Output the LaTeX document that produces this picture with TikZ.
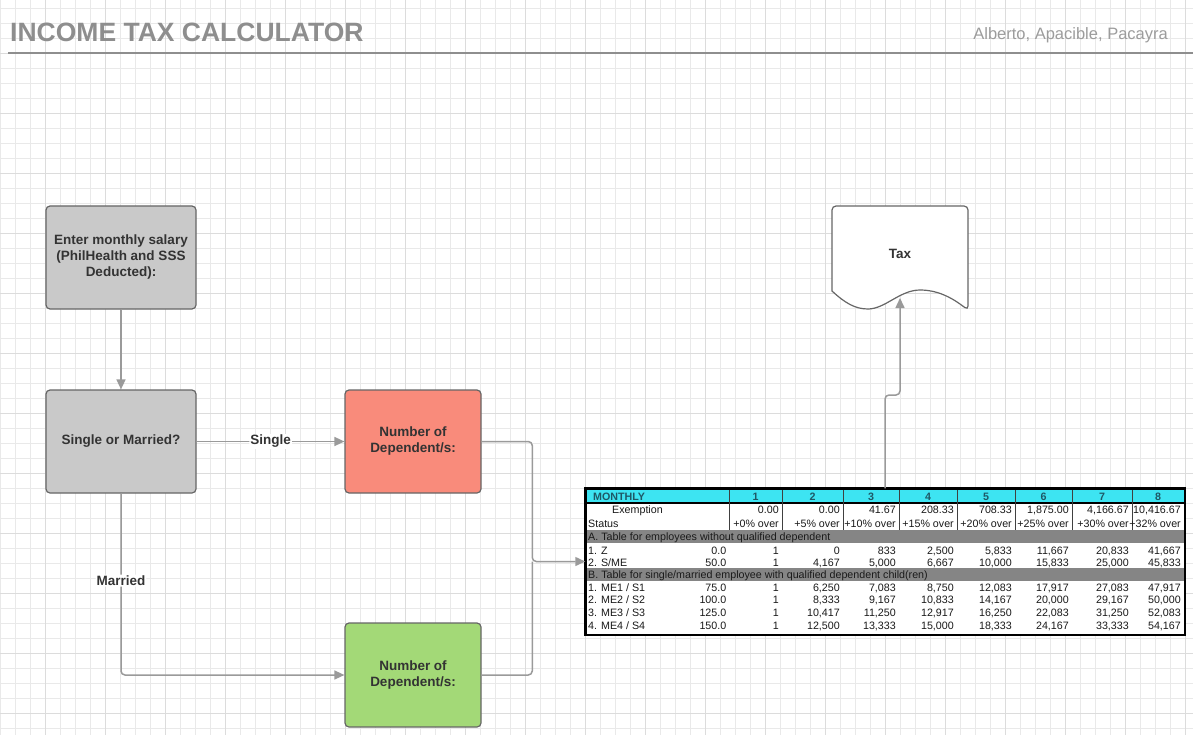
\documentclass[tikz,border=0pt]{standalone}
\usepackage{fontspec}
\setmainfont{Liberation Sans}
\usetikzlibrary{arrows.meta}
\definecolor{gridminor}{HTML}{E9E9E9}
\definecolor{gridmajor}{HTML}{DCDCDC}
\definecolor{titlegray}{HTML}{8E8E8E}
\definecolor{authgray}{HTML}{9C9C9C}
\definecolor{boxgray}{HTML}{C9C9C9}
\definecolor{boxborder}{HTML}{666666}
\definecolor{redbox}{HTML}{F98B7B}
\definecolor{greenbox}{HTML}{A3D977}
\definecolor{conngray}{HTML}{9A9A9A}
\definecolor{textdark}{HTML}{333333}
\definecolor{cyanc}{HTML}{3DE4F2}
\definecolor{grayrow}{HTML}{858585}
\definecolor{tabtext}{HTML}{1A1A1A}
\definecolor{headtext}{HTML}{1E5866}
\newcommand\trow[4]{%
  \node[tcell, anchor=base west] (#1-lab) at (588,#2) {#3};
  \foreach \v [count=\i from 0] in {#4} {%
    \pgfmathsetmacro\xr{{726.5,779,840,896,954,1012,1069,1129,1181}[\i]}%
    \node[tcell, anchor=base east] (#1-\i) at (\xr,#2) {\v};
  }%
}
\begin{document}
\begin{tikzpicture}[x=1pt,y=-1pt,
  box/.style={draw=boxborder, line width=1.2pt, rounded corners=4pt, align=center, inner sep=2pt,
    font=\fontsize{13.5}{16}\selectfont\bfseries, text=textdark},
  conn/.style={draw=conngray, line width=1.5pt, -{Triangle[length=10pt,width=9pt]}, rounded corners=4pt},
  connplain/.style={draw=conngray, line width=1.5pt, rounded corners=4pt},
  lbl/.style={fill=white, inner sep=1pt, font=\fontsize{13.5}{16}\selectfont\bfseries, text=textdark},
  tcell/.style={inner sep=0pt, font=\fontsize{10.7}{12}\selectfont, text=tabtext},
  thead/.style={inner sep=0pt, font=\fontsize{10.7}{12}\selectfont\bfseries, text=headtext},
  gridl/.style={draw=gridminor, line width=0.8pt},
  gridM/.style={draw=gridmajor, line width=0.9pt}
]
\useasboundingbox (0,0) rectangle (1193,735);
\fill[white] (0,0) rectangle (1193,735);
% grid
\foreach \k in {0,...,79} \draw[gridl] (0.5+15*\k,0) -- (0.5+15*\k,735);
\foreach \k in {0,...,49} \draw[gridl] (0,8+15*\k) -- (1193,8+15*\k);
\foreach \k in {0,...,19} \draw[gridM] (45.5+60*\k,0) -- (45.5+60*\k,735);
\foreach \k in {0,...,12} \draw[gridM] (0,53+60*\k) -- (1193,53+60*\k);
% title
\node[anchor=base west, inner sep=0pt, font=\fontsize{26.5}{30}\selectfont\bfseries, text=titlegray] (title) at (10,42) {INCOME TAX CALCULATOR};
\node[anchor=base east, inner sep=0pt, font=\fontsize{16.5}{20}\selectfont, text=authgray] (auth) at (1168,40) {Alberto, Apacible, Pacayra};
\draw[draw=titlegray, line width=1.5pt] (8,53) -- (1193,53);
% boxes
\node[box, fill=boxgray, minimum width=150pt, minimum height=103pt] (b1) at (121,257.5) {Enter monthly salary\\(PhilHealth and SSS\\Deducted):};
\node[box, fill=boxgray, minimum width=150pt, minimum height=103pt] (b2) at (121,441.5) {Single or Married?};
\node[box, fill=redbox, minimum width=136pt, minimum height=103pt] (b3) at (413,441.5) {Number of\\Dependent/s:};
\node[box, fill=greenbox, minimum width=136pt, minimum height=104pt] (b4) at (413,675) {Number of\\Dependent/s:};
% document shape
\draw[draw=boxborder, line width=1.2pt, fill=white, rounded corners=4pt] (832,291) -- (832,206) -- (968,206) -- (968,310)
  [sharp corners] .. controls (955,300) and (940,290) .. (920,290)
  .. controls (900,290) and (885,309) .. (868,309)
  .. controls (855,309) and (845,303) .. (832,291) -- cycle;
\node[inner sep=0pt, font=\fontsize{13.5}{16}\selectfont\bfseries, text=textdark] (tax) at (900,254) {Tax};
\coordinate (taxin) at (900,298);
% table
\node[fill=white, minimum width=597pt, minimum height=144pt, inner sep=0pt, line width=2.5pt] (tbl) at (885,561.5) {};
\fill[cyanc] (586.5,489.5) rectangle (1183.5,503);
\fill[grayrow] (586.5,530) rectangle (1183.5,543);
\fill[grayrow] (586.5,568) rectangle (1183.5,581);
\draw[black, line width=1.2pt] (586.5,503) -- (1183.5,503);
\foreach \xv in {729,782,843,899,957,1015,1072,1132} \draw[black!75, line width=0.7pt] (\xv,489.5) -- (\xv,530);
\node[thead, anchor=base west] (hm) at (593,500) {MONTHLY};
\foreach \n/\xc in {1/755.5,2/812.5,3/871,4/928,5/986,6/1043.5,7/1102,8/1158}
  \node[thead, anchor=base] (h\n) at (\xc,500) {\n};
\node[tcell, anchor=base west] (exlab) at (612,513.5) {Exemption};
\foreach \v [count=\i] in {0.00,0.00,41.67,208.33,708.33,{1,875.00},{4,166.67},{10,416.67}} {%
  \pgfmathsetmacro\xr{{726.5,779,840,896,954,1012,1069,1129,1181}[\i]}%
  \node[tcell, anchor=base east] (ex\i) at (\xr,513.5) {\v};
}
\node[tcell, anchor=base west] (stlab) at (588,527) {Status};
\foreach \v [count=\i] in {+0\% over,+5\% over,+10\% over,+15\% over,+20\% over,+25\% over,+30\% over,+32\% over} {%
  \pgfmathsetmacro\xr{{726.5,779,840,896,954,1012,1069,1129,1181}[\i]}%
  \node[tcell, anchor=base east] (st\i) at (\xr,527) {\v};
}
\node[tcell, anchor=base west] (secA) at (588,540.5) {A. Table for employees without qualified dependent};
\trow{rz}{554}{1. Z}{0.0,1,0,833,{2,500},{5,833},{11,667},{20,833},{41,667}}
\trow{rs}{566.5}{2. S/ME}{50.0,1,{4,167},{5,000},{6,667},{10,000},{15,833},{25,000},{45,833}}
\node[tcell, anchor=base west] (secB) at (588,578.5) {B. Table for single/married employee with qualified dependent child(ren)};
\trow{r1}{591}{1. ME1 / S1}{75.0,1,{6,250},{7,083},{8,750},{12,083},{17,917},{27,083},{47,917}}
\trow{r2}{603.5}{2. ME2 / S2}{100.0,1,{8,333},{9,167},{10,833},{14,167},{20,000},{29,167},{50,000}}
\trow{r3}{616}{3. ME3 / S3}{125.0,1,{10,417},{11,250},{12,917},{16,250},{22,083},{31,250},{52,083}}
\trow{r4}{629}{4. ME4 / S4}{150.0,1,{12,500},{13,333},{15,000},{18,333},{24,167},{33,333},{54,167}}
\draw[black, line width=2.5pt] (tbl.north west) rectangle (tbl.south east);
% connectors
\draw[conn] (b1) -- (b2);
\draw[conn] (b2) -- node[lbl] (lsingle) {Single} (b3);
\draw[conn] (b2.south) -- node[lbl, pos=0.48] (lmarried) {Married} (b2.south |- b4.west) -- (b4.west);
\path (tbl.west) ++(-53,0) coordinate (m);
\draw[connplain] (b4.east) -| (m);
\draw[conn] (b3.east) -| (m) -- (tbl.west);
\coordinate (j1) at (885,395);
\draw[conn] (tbl.north) -- (j1) -- (j1 -| taxin) -- (taxin);
\end{tikzpicture}
\end{document}
